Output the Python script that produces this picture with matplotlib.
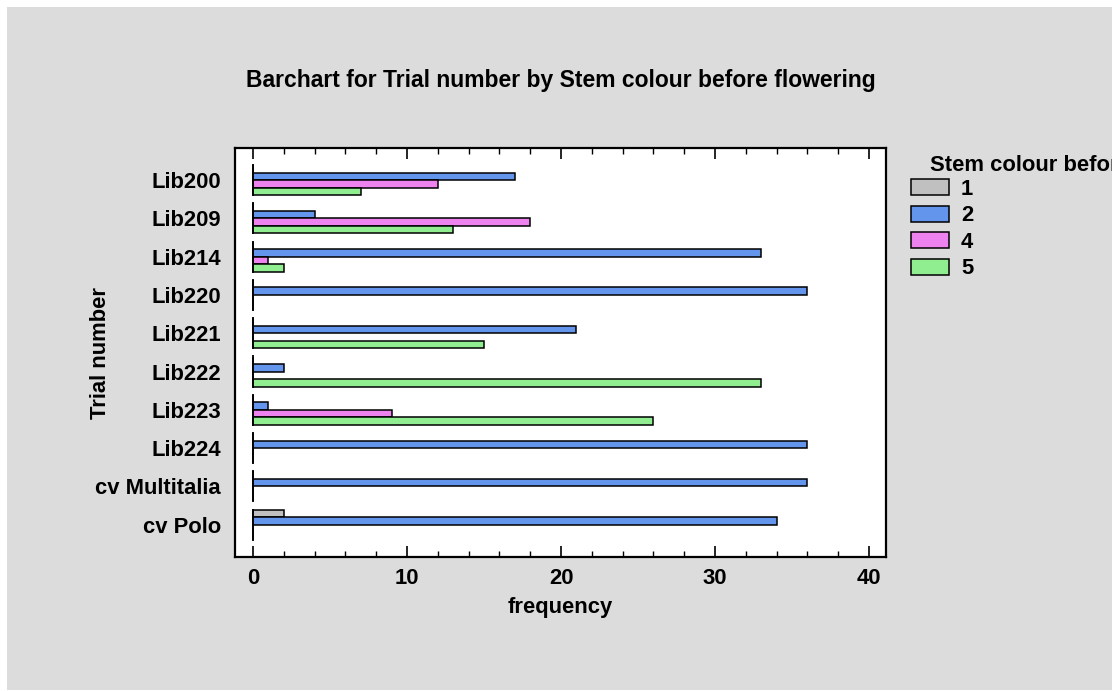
import matplotlib
matplotlib.use("Agg")
import matplotlib.pyplot as plt
from matplotlib.patches import Rectangle, Patch
from matplotlib.ticker import MultipleLocator
import numpy as np

plt.rcParams['font.family'] = ['Liberation Sans', 'DejaVu Sans']
plt.rcParams['font.weight'] = 'bold'

trials = ["Lib200", "Lib209", "Lib214", "Lib220", "Lib221",
          "Lib222", "Lib223", "Lib224", "cv Multitalia", "cv Polo"]
stem_levels = ["1", "2", "4", "5"]
freq_1 = [0, 0, 0, 0, 0, 0, 0, 0, 0, 2]
freq_2 = [17, 4, 33, 36, 21, 2, 1, 36, 36, 34]
freq_4 = [12, 18, 1, 0, 0, 0, 9, 0, 0, 0]
freq_5 = [7, 13, 2, 0, 15, 33, 26, 0, 0, 0]
series = [freq_1, freq_2, freq_4, freq_5]
colors = ["#c0c0c0", "#6495ed", "#ee82ee", "#90ee90"]

FS = 15.8
FS_TITLE = 16.5
BG = "#dcdcdc"
fig = plt.figure(figsize=(11.18, 6.91), dpi=100, facecolor="white")
panel = Rectangle((7 / 1118, 1 - 690 / 691), (1112 - 7) / 1118, (690 - 7) / 691,
                  transform=fig.transFigure, facecolor=BG, edgecolor="none", zorder=-10)
fig.patches.append(panel)

ax = fig.add_axes([235 / 1118, 1 - 557 / 691, (886 - 235) / 1118, (557 - 148) / 691])
ax.set_facecolor("white")

y = np.arange(len(trials))
h = 0.196
offsets = (np.arange(4) - 1.5) * h
for vals, off, col, lab in zip(series, offsets, colors, stem_levels):
    ax.barh(y + off, vals, height=h, color=col, edgecolor="black", linewidth=1.1,
            label=lab, zorder=3)

# baseline segment at zero for each group
ax.vlines(np.zeros(len(trials)), y - 0.42, y + 0.42, color="black", linewidth=1.3, zorder=4)

ax.set_xlim(-1.17, 41.1)
ax.set_ylim(len(trials) - 1 + 0.843, -0.836)
ax.set_yticks(y)
ax.set_yticklabels(trials, fontsize=FS, fontweight="bold")
ax.xaxis.set_major_locator(MultipleLocator(10))
ax.xaxis.set_minor_locator(MultipleLocator(2))
ax.tick_params(axis="x", which="major", direction="in", length=8, width=1.2,
               top=True, bottom=True, labelsize=FS, pad=8)
ax.tick_params(axis="x", which="minor", direction="in", length=4, width=1.0,
               top=True, bottom=True)
ax.tick_params(axis="y", length=0, pad=10)
for lbl in ax.get_xticklabels():
    lbl.set_fontweight("bold")
for sp in ax.spines.values():
    sp.set_linewidth(1.6)
    sp.set_color("black")

fig.text(101 / 1118, 1 - 353 / 691, "Trial number", rotation=90, ha="center", va="center",
         fontsize=FS, fontweight="bold")
fig.text(560 / 1118, 1 - 607 / 691, "frequency", ha="center", va="center",
         fontsize=FS, fontweight="bold")
fig.text(561 / 1118, 1 - 81 / 691, "Barchart for Trial number by Stem colour before flowering",
         ha="center", va="center", fontsize=FS_TITLE, fontweight="bold")

handles = [Patch(facecolor=c, edgecolor="black", linewidth=1.1) for c in colors]
leg = fig.legend(handles, stem_levels, loc="upper left",
                 bbox_to_anchor=(911 / 1118, 1 - 179 / 691), frameon=False,
                 fontsize=FS, handlelength=1.73, handleheight=0.73, handletextpad=0.55,
                 labelspacing=0.25, borderpad=0, borderaxespad=0)
for t in leg.get_texts():
    t.set_fontweight("bold")
fig.text(930 / 1118, 1 - 165 / 691, "Stem colour before flowering", ha="left", va="center",
         fontsize=FS, fontweight="bold")
# white margin on the right edge of the panel
fig.patches.append(Rectangle((1112 / 1118, 0), 6 / 1118, 1, transform=fig.transFigure,
                             facecolor="white", edgecolor="none", zorder=100))

fig.savefig("out.png", dpi=100, facecolor="white")
